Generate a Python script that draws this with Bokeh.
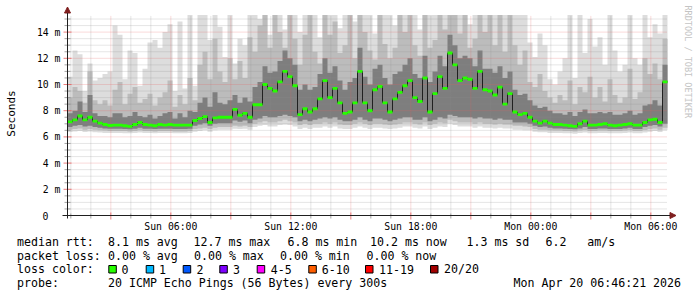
from datetime import datetime, timedelta, timezone
from math import pi

from bokeh.plotting import figure
from bokeh.models import Arrow, NormalHead, Range1d
from bokeh.core.properties import value
from bokeh.embed import file_html
from bokeh.resources import INLINE

# ---------------- data ----------------
START = datetime(2026, 4, 19, 0, 50)      # left edge of the plot
SPAN_HOURS = 30
STEP_MIN = 15                             # one value every 15 minutes
GRID_TOP = 15.27                          # upper limit of the graph (ms)

# median rtt (ms)
MEDIAN = [7.15,7.3,7.6,7.3,7.5,7.2,7.05,6.95,6.87,6.9,
          6.9,6.85,6.8,6.95,7.1,6.95,6.9,6.85,6.95,6.9,
          6.95,6.9,6.9,6.9,6.9,7.25,7.4,7.55,7.1,7.45,
          7.5,7.5,7.5,8.1,7.65,7.8,7.5,8.45,8.45,10.0,
          9.7,9.5,10.2,11.0,10.6,9.9,7.7,8.15,7.9,8.15,
          8.9,10.3,9.0,9.7,8.6,7.8,7.9,8.6,11.0,8.6,
          8.0,9.6,9.85,8.6,7.9,8.9,9.4,9.9,10.3,9.0,
          8.7,10.5,7.9,9.3,10.6,9.7,12.4,11.5,10.3,10.5,
          10.4,9.7,11.0,9.6,9.5,9.2,9.8,8.5,9.3,7.9,
          7.7,7.8,7.5,7.2,7.05,7.2,7.05,6.95,6.95,6.9,
          6.85,6.8,7.0,7.2,6.9,6.9,6.95,7.0,6.9,6.85,
          6.9,6.95,7.0,6.9,6.9,7.1,7.3,7.35,7.1,10.2]

# smoke: top of the lightest band (slowest ping)
SMOKE_MAX = [10.6,12.6,12.3,9.5,11.6,10.3,10.5,10.8,11.0,14.5,
             13.8,10.4,12.6,12.4,9.9,11.2,13.2,13.4,12.8,14.0,
             14.6,9.5,14.8,9.7,15.3,9.9,15.3,15.3,13.4,15.3,
             14.4,12.1,15.3,11.6,13.5,13.0,15.3,15.3,15.0,15.3,
             13.8,15.3,15.3,14.2,15.3,15.3,14.0,15.3,15.3,15.3,
             13.6,15.3,15.3,15.3,14.3,15.3,15.3,14.8,15.3,15.3,
             15.3,13.9,15.3,15.3,15.3,14.5,15.3,15.3,15.3,15.3,
             14.2,15.3,15.3,15.3,15.3,15.3,15.3,15.3,15.3,15.3,
             14.6,15.3,15.3,15.3,15.3,15.3,15.3,15.3,15.3,15.3,
             15.3,15.3,13.2,12.1,13.9,13.0,10.4,10.0,11.0,12.0,
             15.3,10.5,15.3,12.4,15.0,12.9,13.6,11.5,15.3,12.6,
             11.0,11.5,15.3,12.0,11.5,15.3,13.6,14.6,13.9,15.3]

# smoke: top of the medium grey band
SMOKE_HI = [9.0,9.8,9.5,8.6,11.0,8.8,8.5,8.8,8.4,9.6,
            10.2,8.5,9.3,9.8,8.6,8.9,9.3,8.4,9.0,9.4,
            10.3,8.3,9.2,8.5,10.5,8.8,11.5,12.5,10.4,13.5,
            11.0,10.2,12.0,10.4,11.8,10.5,13.6,12.5,14.5,15.3,
            12.8,15.3,14.0,12.8,15.3,13.5,11.5,13.8,15.3,12.5,
            11.6,15.3,13.8,14.8,12.4,13.0,15.3,12.0,15.3,14.0,
            12.6,11.9,15.3,13.1,12.0,12.8,15.3,14.0,15.3,13.0,
            12.2,15.3,12.8,13.4,15.3,14.2,15.3,15.3,13.9,15.3,
            12.8,13.5,15.3,14.0,15.3,13.0,15.3,12.5,15.3,13.0,
            11.5,12.6,10.2,9.8,10.8,9.5,9.0,8.6,9.2,8.8,
            10.3,8.5,9.8,9.4,10.6,9.0,9.8,8.7,10.4,9.2,
            8.6,9.0,11.2,8.9,9.4,12.0,10.8,11.6,10.4,13.5]

# smoke: top of the dark band
SMOKE_DK = [7.8,8.0,8.7,7.9,9.2,7.8,7.6,7.6,7.5,7.8,
            7.8,7.5,7.6,7.9,7.6,7.5,7.7,7.4,7.6,7.8,
            7.9,7.4,7.8,7.5,8.0,7.9,8.6,9.0,8.3,9.4,
            8.6,8.5,8.8,9.2,8.6,9.0,8.7,9.8,10.2,11.4,
            10.9,11.0,11.8,12.6,12.0,11.5,9.6,10.0,9.6,9.8,
            10.8,12.0,10.9,11.4,10.3,9.6,10.2,10.5,12.8,10.6,
            10.0,11.2,11.5,10.5,10.0,10.8,11.0,11.5,12.0,10.8,
            10.5,12.2,10.2,11.0,12.2,11.4,13.8,13.0,12.0,12.2,
            12.0,11.4,12.6,11.2,11.2,10.9,11.4,10.5,11.0,9.6,
            9.2,9.3,8.8,8.4,8.2,8.3,8.0,7.8,7.8,7.7,
            7.9,7.6,7.9,8.1,7.8,7.8,7.9,7.8,7.9,7.7,
            7.7,7.8,8.0,7.7,7.8,8.4,8.5,8.8,8.4,11.5]

# smoke: bottom of the dark band
SMOKE_DKL = [6.75,6.85,6.9,6.8,6.85,6.75,6.7,6.65,6.62,6.62,
             6.62,6.6,6.58,6.62,6.7,6.62,6.62,6.6,6.62,6.62,
             6.62,6.6,6.6,6.6,6.62,6.85,6.95,7.05,6.85,7.0,
             7.05,7.05,7.05,7.25,7.15,7.25,7.05,7.3,7.4,7.6,
             7.5,7.5,7.6,7.7,7.6,7.5,7.2,7.3,7.2,7.3,
             7.4,7.5,7.4,7.5,7.3,7.2,7.2,7.3,7.5,7.3,
             7.2,7.4,7.4,7.3,7.2,7.3,7.4,7.5,7.5,7.3,
             7.3,7.5,7.2,7.3,7.5,7.4,7.7,7.6,7.5,7.5,
             7.5,7.4,7.5,7.4,7.4,7.3,7.4,7.3,7.3,7.1,
             7.1,7.1,7.0,6.85,6.75,6.8,6.7,6.65,6.65,6.62,
             6.6,6.58,6.65,6.75,6.6,6.6,6.65,6.65,6.6,6.6,
             6.6,6.65,6.7,6.6,6.6,6.75,6.85,6.9,6.8,7.0]

# smoke: bottom of the medium grey band
SMOKE_LO = [6.55,6.6,6.65,6.55,6.6,6.55,6.5,6.48,6.45,6.45,
            6.45,6.45,6.42,6.45,6.5,6.45,6.45,6.42,6.45,6.45,
            6.45,6.42,6.42,6.42,6.45,6.6,6.65,6.7,6.6,6.7,
            6.75,6.75,6.75,6.85,6.8,6.85,6.75,7.0,7.1,7.2,
            7.1,7.1,7.2,7.3,7.2,7.1,6.9,7.0,6.9,7.0,
            7.0,7.1,7.0,7.1,6.95,6.9,6.9,7.0,7.1,7.0,
            6.9,7.0,7.0,6.95,6.9,6.95,7.0,7.1,7.1,7.0,
            6.95,7.1,6.9,7.0,7.1,7.05,7.3,7.2,7.1,7.1,
            7.1,7.0,7.1,7.0,7.0,6.95,7.0,6.95,6.95,6.85,
            6.85,6.8,6.75,6.6,6.55,6.55,6.5,6.48,6.48,6.45,
            6.45,6.42,6.48,6.52,6.45,6.45,6.48,6.48,6.45,6.45,
            6.45,6.48,6.52,6.45,6.45,6.52,6.6,6.65,6.55,6.7]

# smoke: bottom of the lightest band (fastest ping)
SMOKE_MIN = [6.38,6.42,6.45,6.38,6.42,6.36,6.33,6.3,6.3,6.3,
             6.3,6.28,6.28,6.3,6.33,6.3,6.3,6.28,6.3,6.3,
             6.3,6.28,6.28,6.28,6.3,6.4,6.45,6.5,6.4,6.5,
             6.55,6.55,6.55,6.62,6.6,6.62,6.55,6.75,6.85,6.9,
             6.8,6.8,6.9,6.95,6.9,6.8,6.6,6.7,6.6,6.7,
             6.7,6.8,6.7,6.8,6.65,6.6,6.6,6.7,6.8,6.7,
             6.6,6.7,6.7,6.65,6.6,6.65,6.7,6.8,6.8,6.7,
             6.65,6.8,6.6,6.7,6.8,6.75,7.0,6.9,6.8,6.8,
             6.8,6.7,6.8,6.7,6.7,6.65,6.7,6.65,6.65,6.55,
             6.55,6.5,6.5,6.4,6.35,6.35,6.3,6.3,6.3,6.28,
             6.28,6.25,6.3,6.33,6.28,6.28,6.3,6.3,6.28,6.28,
             6.28,6.3,6.33,6.28,6.28,6.33,6.4,6.45,6.38,6.5]

Y_TICKS = [0, 2, 4, 6, 8, 10, 12, 14]
Y_LABELS = ["0", "2 m", "4 m", "6 m", "8 m", "10 m", "12 m", "14 m"]
X_TICK_TIMES = [datetime(2026, 4, 19, 6), datetime(2026, 4, 19, 12),
                datetime(2026, 4, 19, 18), datetime(2026, 4, 20, 0),
                datetime(2026, 4, 20, 6)]
X_LABELS = ["Sun 06:00", "Sun 12:00", "Sun 18:00", "Mon 00:00", "Mon 06:00"]
Y_TITLE = "Seconds"
WATERMARK = "RRDTOOL / TOBI OETIKER"

LOSS_LABELS = ["0", "1", "2", "3", "4-5", "6-10", "11-19", "20/20"]
LOSS_COLORS = ["#26ff00", "#00b8ff", "#0059ff", "#7e00ff", "#ff00ff",
               "#ff5e00", "#ff0000", "#a10000"]

STATS_RTT = ["8.1 ms avg", "12.7 ms max", "6.8 ms min", "10.2 ms now",
             "1.3 ms sd", "6.2", "am/s"]
STATS_LOSS = ["0.00 % avg", "0.00 % max", "0.00 % min", "0.00 % now"]
PROBE = "20 ICMP Echo Pings (56 Bytes) every 300s"
STAMP = "Mon Apr 20 06:46:21 2026"

for arr in (MEDIAN, SMOKE_MAX, SMOKE_HI, SMOKE_DK, SMOKE_DKL, SMOKE_LO, SMOKE_MIN):
    assert len(arr) == 120

# ---------------- scales ----------------
def ms(dt):
    return dt.replace(tzinfo=timezone.utc).timestamp() * 1000.0

HOUR = 3600 * 1000.0
W, H = 697, 297
GL, GB = 67, 215                 # pixel position of the time origin / 0 ms
PX_PER_HOUR = 20.0
PX_PER_MS = 13.1

X0 = ms(START)
X_DATA_END = X0 + SPAN_HOURS * HOUR
STEP = STEP_MIN * 60 * 1000.0
T = [X0 + i * STEP for i in range(len(MEDIAN))]
TS = T + [T[-1] + STEP]          # step edges

def ext(a):
    return list(a) + [a[-1]]

def px2x(px):
    return X0 + (px - GL) / PX_PER_HOUR * HOUR

def px2y(py):
    return (GB - py) / PX_PER_MS

MONO = "DejaVu Sans Mono"
GRID_MAJOR = "#e75f5f"
GRID_MINOR = "#8f8f8f"
AXIS = "#1f1f1f"
ARROW = "#7f1f1f"

p = figure(width=W, height=H,
           x_range=Range1d(px2x(0), px2x(W)), y_range=Range1d(px2y(H), px2y(0)),
           output_backend="svg", toolbar_location=None,
           x_axis_location=None, y_axis_location=None,
           min_border=0, min_border_left=0, min_border_right=0,
           min_border_top=0, min_border_bottom=0)
p.outline_line_color = None
p.grid.visible = False
p.background_fill_color = "white"
p.border_fill_color = "white"

# ---------------- smoke ----------------
p.varea_step(x=TS, y1=ext(SMOKE_MIN), y2=ext(SMOKE_MAX), step_mode="after",
             fill_color="#dddddd")
p.varea_step(x=TS, y1=ext(SMOKE_LO), y2=ext(SMOKE_HI), step_mode="after",
             fill_color="#bcbcbc")
p.varea_step(x=TS, y1=ext(SMOKE_DKL), y2=ext(SMOKE_DK), step_mode="after",
             fill_color="#7e7e7e")

# ---------------- grid (dotted, over the smoke) ----------------
hours = []
h = datetime(2026, 4, 19, 1)
while ms(h) < X_DATA_END:
    hours.append(h)
    h += timedelta(hours=1)
vx_minor = [ms(d) for d in hours if d.hour % 3 != 0]
vx_major = [ms(d) for d in hours if d.hour % 3 == 0]
hy_all = [k * 0.5 for k in range(1, 31)]
hy_minor = [v for v in hy_all if v % 2 != 0]
hy_major = [v for v in hy_all if v % 2 == 0]

def vlines(xs, color, alpha):
    p.segment(x0=xs, y0=[0] * len(xs), x1=xs, y1=[GRID_TOP] * len(xs),
              line_color=color, line_alpha=alpha, line_dash="1 1", line_width=1)

def hlines(ys, color, alpha):
    p.segment(x0=[X0] * len(ys), y0=ys, x1=[X_DATA_END] * len(ys), y1=ys,
              line_color=color, line_alpha=alpha, line_dash="1 1", line_width=1)

vlines(vx_minor, GRID_MINOR, 0.45)
hlines(hy_minor, GRID_MINOR, 0.45)
vlines(vx_major, GRID_MAJOR, 0.45)
hlines(hy_major, GRID_MAJOR, 0.45)

# ---------------- median ----------------
HALF = 0.11
p.step(x=TS, y=ext(MEDIAN), mode="after", line_color="#202020", line_width=1)
p.varea_step(x=TS, y1=[m - HALF for m in ext(MEDIAN)],
             y2=[m + HALF for m in ext(MEDIAN)], step_mode="after",
             fill_color=LOSS_COLORS[0])

# ---------------- axes ----------------
yt_minor = [v for v in [0.0] + hy_all if v % 2 != 0]
p.segment(x0=[px2x(64)] * len(yt_minor), y0=yt_minor,
          x1=[px2x(70)] * len(yt_minor), y1=yt_minor,
          line_color=GRID_MINOR, line_alpha=0.8, line_width=1)
p.segment(x0=[px2x(63)] * len(Y_TICKS), y0=Y_TICKS,
          x1=[px2x(71)] * len(Y_TICKS), y1=Y_TICKS,
          line_color=GRID_MAJOR, line_alpha=0.8, line_width=1)
p.segment(x0=vx_minor, y0=[px2y(213)] * len(vx_minor),
          x1=vx_minor, y1=[px2y(218)] * len(vx_minor),
          line_color=GRID_MINOR, line_alpha=0.8, line_width=1)
p.segment(x0=vx_major, y0=[px2y(212)] * len(vx_major),
          x1=vx_major, y1=[px2y(219)] * len(vx_major),
          line_color=GRID_MAJOR, line_alpha=0.8, line_width=1)

p.add_layout(Arrow(x_start=X0, y_start=px2y(218), x_end=X0, y_end=px2y(6.5),
                   line_color=AXIS, line_width=1,
                   end=NormalHead(size=6, fill_color=ARROW, line_color=ARROW)))
p.add_layout(Arrow(x_start=px2x(62), y_start=0, x_end=px2x(675.5), y_end=0,
                   line_color=AXIS, line_width=1,
                   end=NormalHead(size=6, fill_color=ARROW, line_color=ARROW)))

AX_FONT = "9.8px"
p.text(x=[px2x(60)] * (len(Y_TICKS) - 1), y=Y_TICKS[1:], text=Y_LABELS[1:],
       text_font=value(MONO), text_font_size=value(AX_FONT),
       text_color="#000000", text_align="right", text_baseline="middle")
p.text(x=[px2x(48)], y=Y_TICKS[:1], text=Y_LABELS[:1],
       text_font=value(MONO), text_font_size=value(AX_FONT),
       text_color="#000000", text_align="right", text_baseline="middle")
p.text(x=[ms(d) for d in X_TICK_TIMES], y=[px2y(225.5)] * len(X_TICK_TIMES),
       text=X_LABELS, text_font=value(MONO), text_font_size=value(AX_FONT),
       text_color="#000000", text_align="center", text_baseline="middle")
p.text(x=[px2x(11)], y=[px2y(113)], text=[Y_TITLE], angle=pi / 2,
       text_font=value(MONO), text_font_size=value("11px"),
       text_color="#000000", text_align="center", text_baseline="middle")
p.text(x=[px2x(687)], y=[px2y(5)], text=[WATERMARK], angle=-pi / 2,
       text_font=value(MONO), text_font_size=value("8.5px"),
       text_color="#c4c4c4", text_align="left", text_baseline="middle")

# ---------------- legend ----------------
ROW = [241, 255, 268.5, 282.5]
tx, ty, tt = [], [], []

def put(px, py, s):
    tx.append(px2x(px)); ty.append(px2y(py)); tt.append(s)

put(16.5, ROW[0], "median rtt:")
for xpx, s in zip([107.5, 193, 287, 369.5, 466, 545, 586.7], STATS_RTT):
    put(xpx, ROW[0], s)
put(16.5, ROW[1], "packet loss:")
for xpx, s in zip([107.5, 193.5, 279.5, 366], STATS_LOSS):
    put(xpx, ROW[1], s)
put(16.5, ROW[2], "loss color:")
BOX_X = [108.3, 145.7, 182.7, 219.3, 256.7, 308.3, 365, 430]
LAB_X = [121, 158.6, 196, 232.6, 270.3, 321.3, 378.6, 443.6]
for lx, lab in zip(LAB_X, LOSS_LABELS):
    put(lx, ROW[2], lab)
put(16.5, ROW[3], "probe:")
put(107.5, ROW[3], PROBE)
put(513, ROW[3], STAMP)

p.text(x=tx, y=ty, text=tt, text_font=value(MONO),
       text_font_size=value("11.6px"), text_color="#000000",
       text_align="left", text_baseline="middle")
p.quad(left=[px2x(b) for b in BOX_X], right=[px2x(b + 7.5) for b in BOX_X],
       top=[px2y(265)] * len(BOX_X), bottom=[px2y(272.5)] * len(BOX_X),
       fill_color=LOSS_COLORS, line_color="#000000", line_width=1)

open("out.html", "w").write(file_html(p, INLINE))
